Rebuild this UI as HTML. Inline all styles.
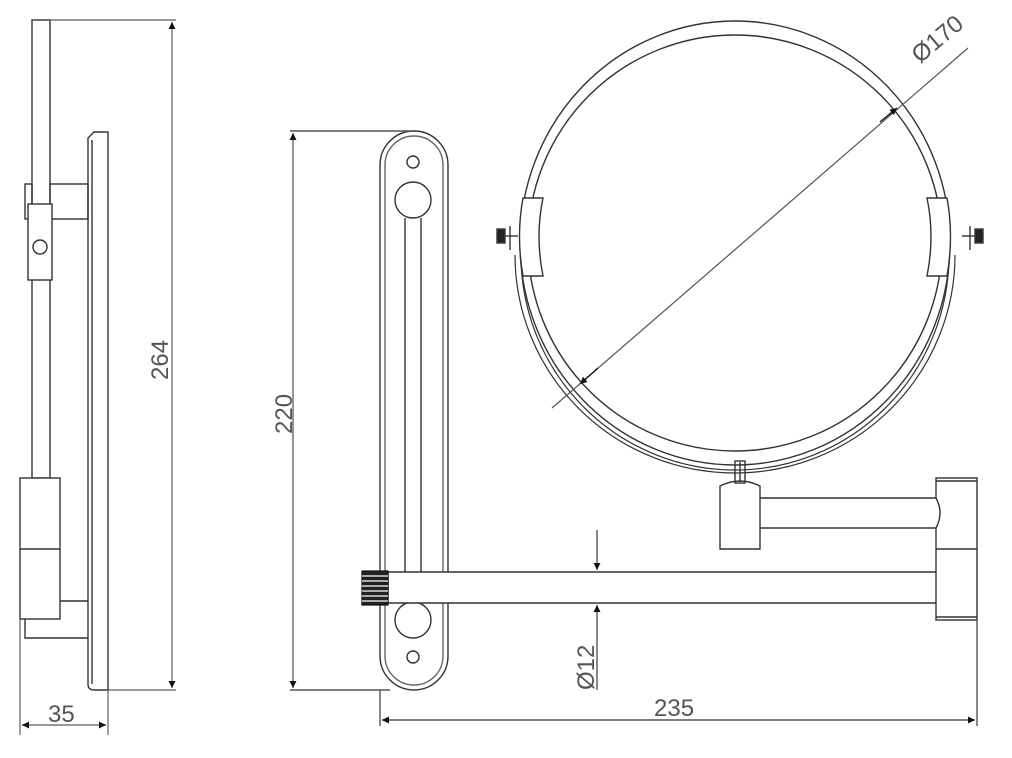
<!DOCTYPE html>
<html><head><style>
html,body{margin:0;padding:0;background:#fff;}
svg{display:block;}
text{font-family:"Liberation Sans",sans-serif;fill:#555;font-size:24px;}
</style></head><body>
<svg width="1012" height="758" viewBox="0 0 1012 758" xmlns="http://www.w3.org/2000/svg">
<defs>
<marker id="a" viewBox="0 0 10 10" refX="10" refY="5" markerWidth="16" markerHeight="7" orient="auto-start-reverse" markerUnits="userSpaceOnUse"><path d="M0,0 L10,5 L0,10 z" fill="#111"/></marker>
</defs>
<g fill="none" stroke="#333" stroke-width="1.4">
<rect x="32" y="20" width="18" height="458"/>
<line x1="50" y1="20" x2="176" y2="20" stroke="#777"/>
<line x1="172" y1="22" x2="172" y2="688" stroke="#777" marker-start="url(#a)" marker-end="url(#a)"/>
<line x1="108" y1="690" x2="176" y2="690" stroke="#777"/>
<path d="M94,132 H108 V690 H94 Q88,690 88,684 V138 Z"/>
<line x1="92" y1="140" x2="92" y2="684"/>
<rect x="50" y="184" width="38" height="35"/>
<rect x="25" y="184" width="7" height="35"/>
<rect x="28" y="204" width="24" height="76" fill="#fff"/>
<circle cx="40" cy="247" r="7"/>
<rect x="20" y="478" width="40" height="141" fill="#fff"/>
<line x1="20" y1="549" x2="60" y2="549"/>
<line x1="60" y1="601" x2="88" y2="601"/>
<path d="M25,619 V638 H88"/>
<line x1="20" y1="619" x2="20" y2="735" stroke="#777"/>
<line x1="108" y1="690" x2="108" y2="735" stroke="#777"/>
<line x1="22" y1="725" x2="106" y2="725" stroke="#777" marker-start="url(#a)" marker-end="url(#a)"/>
<rect x="380" y="131" width="68" height="559" rx="34"/>
<rect x="385" y="136" width="58" height="549" rx="29" stroke="#666"/>
<circle cx="413" cy="162" r="6"/>
<circle cx="413" cy="200" r="18"/>
<line x1="405" y1="218" x2="405" y2="572"/>
<line x1="421" y1="218" x2="421" y2="572"/>
<circle cx="413" cy="620" r="18"/>
<circle cx="413" cy="657" r="6"/>
<line x1="290" y1="131" x2="410" y2="131" stroke="#555"/>
<line x1="290" y1="690" x2="390" y2="690" stroke="#555"/>
<line x1="293" y1="133" x2="293" y2="688" stroke="#666" marker-start="url(#a)" marker-end="url(#a)"/>
<path d="M388,572 H936 Q944,587 936,603 H388 Z" fill="#fff"/>
<g stroke="#111" stroke-width="1.2"><rect x="362" y="571" width="26" height="34" fill="#222"/>
<line x1="362" y1="576" x2="388" y2="576" stroke="#fff"/><line x1="362" y1="581" x2="388" y2="581" stroke="#fff"/><line x1="362" y1="586" x2="388" y2="586" stroke="#fff"/><line x1="362" y1="591" x2="388" y2="591" stroke="#fff"/><line x1="362" y1="596" x2="388" y2="596" stroke="#fff"/><line x1="362" y1="601" x2="388" y2="601" stroke="#fff"/></g>
<rect x="936" y="478" width="41" height="142" fill="#fff"/>
<line x1="936" y1="549" x2="977" y2="549"/>
<line x1="936" y1="481" x2="977" y2="481"/>
<line x1="936" y1="617" x2="977" y2="617"/>
<path d="M760,498 H936 Q944,513 936,528 H760 Q754,513 760,498 Z" fill="#fff"/>
<path d="M720,549 V486 Q740,476 760,486 V549 Z" fill="#fff"/>
<rect x="735" y="461" width="10" height="22"/>
<line x1="740" y1="462" x2="740" y2="482"/>
<line x1="597" y1="530" x2="597" y2="570" stroke="#555" marker-end="url(#a)"/>
<line x1="597" y1="690" x2="597" y2="605" stroke="#555" marker-end="url(#a)"/>
<line x1="380" y1="690" x2="380" y2="726" stroke="#555"/>
<line x1="977" y1="620" x2="977" y2="726" stroke="#555"/>
<line x1="382" y1="720" x2="975" y2="720" stroke="#555" marker-start="url(#a)" marker-end="url(#a)"/>
<ellipse cx="735" cy="243" rx="215" ry="222"/>
<ellipse cx="735" cy="243" rx="207" ry="208"/>
<path d="M521,255 A214,215 0 0 0 949,255" stroke-width="1.2"/>
<path d="M515,255 A220,218 0 0 0 955,255" stroke-width="1.2"/>
<path d="M523,198 L543,198 Q535,236 543,276 L523,276 Q516,236 523,198 Z" fill="#fff"/>
<path d="M947,198 L927,198 Q935,236 927,276 L947,276 Q954,236 947,198 Z" fill="#fff"/>
<rect x="497" y="229" width="8" height="14" fill="#222"/><line x1="505" y1="236" x2="518" y2="236"/><line x1="510" y1="226" x2="510" y2="250"/>
<rect x="975" y="229" width="8" height="14" fill="#222"/><line x1="962" y1="236" x2="975" y2="236"/><line x1="970" y1="226" x2="970" y2="250"/>
<line x1="552" y1="408" x2="968" y2="48" stroke="#555" stroke-width="1.2"/>
<line x1="598" y1="368" x2="580" y2="384" stroke="#111" marker-end="url(#a)"/>
<line x1="880" y1="122" x2="897" y2="108" stroke="#111" marker-end="url(#a)"/>
</g>
<text transform="translate(168,380) rotate(-90)">264</text>
<text x="48" y="722">35</text>
<text transform="translate(292,434) rotate(-90)">220</text>
<text transform="translate(594,690) rotate(-90)">Ø12</text>
<text x="654" y="716">235</text>
<text transform="translate(920,64) rotate(-40)">Ø170</text>
</svg>
</body></html>
